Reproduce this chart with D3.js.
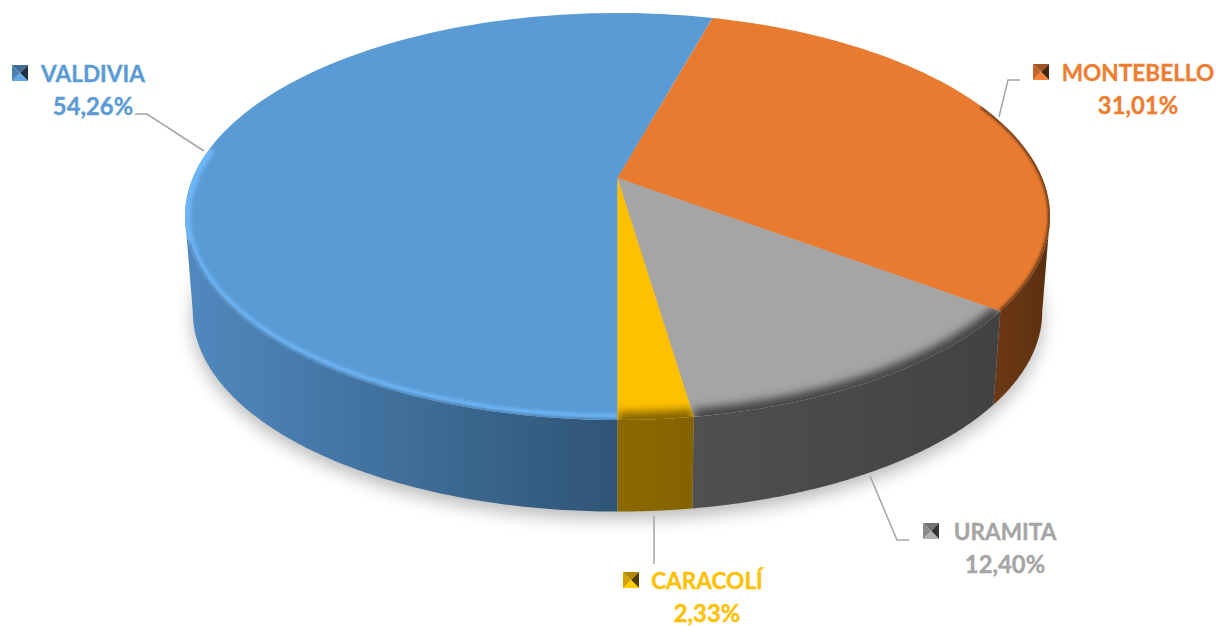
<!DOCTYPE html>
<html><head><meta charset="utf-8">
<script src="https://cdn.jsdelivr.net/npm/d3@7/dist/d3.min.js"></script>
<style>html,body{margin:0;background:#fff}svg{display:block}text{font-family:Lato,"Open Sans",sans-serif;font-weight:700;font-size:22.6px;text-anchor:middle;stroke-width:.35px}.val{font-size:23.8px}</style>
</head><body><svg id="c" width="1218" height="626"></svg>
<script>
const categories=["VALDIVIA","MONTEBELLO","URAMITA","CARACOLÍ"];
const seriesValues=[54.26,31.01,12.40,2.33];
const valueLabels=["54,26%","31,01%","12,40%","2,33%"];
const colors=["#5B9BD5","#E97B30","#A5A5A5","#FFC000"];
const textColors=["#5B9BD5","#ED7D31","#A5A5A5","#FFC000"];
const wallFrom=["#5089BF","#6B3815","#505050","#8C6900"];
const wallTo=["#2F5475","#5C2F10","#424242","#846300"];
const rimColors=["#6DB5F5","#5E3413","#454545","#846300"];
const labelXY=[[93,74],[1138,73],[1005,532],[707,581]];
const leaders=[[[135,114],[147,114],[204,151]],[[1020,80],[1008,80],[999,117]],[[870,476],[897,540],[909,540]],[[654,516],[654,564]]];
const markerXY=[[20,73],[1041,72],[931,531],[631,580]];

const svg=d3.select("#c"),defs=svg.append("defs");
const K=0.189,CX=617.5,CY=178,B=424.7,A=196.2,WS=0.982,WD=96;
const TAU=2*Math.PI;
const sx=d3.scaleLinear().domain([0,1]).range([CX,CX+B]);
const sy=d3.scaleLinear().domain([0,1]).range([CY,CY-A]);
const upper=t=>{const u=Math.sin(t),v=Math.cos(t),w=1+K*v;return [sx(u/w),sy(v/w)];};
const low=t=>{const p=upper(t);return [CX+(p[0]-CX)*WS,CY+(p[1]-CY)*WS+WD];};
const pie=d3.pie().sort(null).startAngle(Math.PI).endAngle(3*Math.PI);
const arcs=pie(seriesValues);
const samp=(a,b)=>d3.range(0,121).map(i=>a+(b-a)*i/120);
const line=d3.line();
const arcTop=d=>samp(d.startAngle,d.endAngle).map(upper);
const wedge=d=>line([[CX,CY],...arcTop(d)])+"Z";
const tangent=Math.acos(-K);
const clampFront=d=>{const off=d.startAngle>=TAU?TAU:0;
  const lo=Math.max(d.startAngle-off,tangent),hi=Math.min(d.endAngle-off,TAU-tangent);return [lo,hi];};

const blur=(id,s)=>defs.append("filter").attr("id",id).attr("filterUnits","userSpaceOnUse").attr("x",0).attr("y",0).attr("width",1218).attr("height",626).append("feGaussianBlur").attr("stdDeviation",s);
blur("sh",9);blur("b4",4.5);blur("b2",1.6);blur("b25",2.4);

// drop shadow
const full=samp(0,TAU);
svg.append("path").attr("d",line(full.map(low))+"Z").attr("transform","translate(0,7)").attr("fill","#000").attr("opacity",.28).attr("filter","url(#sh)");

// walls
[1,0,2,3].forEach(i=>{const d=arcs[i],[lo,hi]=clampFront(d);
  const gid="w"+i,pts=samp(lo,hi);
  const xs=pts.map(upper).map(p=>p[0]);
  const g=defs.append("linearGradient").attr("id",gid).attr("gradientUnits","userSpaceOnUse").attr("x1",d3.min(xs)).attr("x2",d3.max(xs)).attr("y1",0).attr("y2",0);
  g.append("stop").attr("offset",0).attr("stop-color",wallFrom[i]);
  g.append("stop").attr("offset",1).attr("stop-color",wallTo[i]);
  svg.append("path").attr("d",line([...pts.map(upper),...pts.slice().reverse().map(low)])+"Z").attr("fill","url(#"+gid+")");
});

// top faces with bevel rim
arcs.forEach((d,i)=>{
  const cid="cl"+i;
  defs.append("clipPath").attr("id",cid).append("path").attr("d",wedge(d));
  svg.append("path").attr("d",wedge(d)).attr("fill",colors[i]);
  const gr=svg.append("g").attr("clip-path","url(#"+cid+")");
  if(i===0){
    gr.append("path").attr("d",line(samp(d.startAngle,d.startAngle+Math.PI*.55).map(upper))).attr("fill","none").attr("stroke",rimColors[0]).attr("stroke-width",12).attr("filter","url(#b2)");
    gr.append("path").attr("d",line(samp(d.startAngle,d.startAngle+Math.PI*.4).map(upper))).attr("fill","none").attr("stroke","#3F6C95").attr("stroke-width",2.5).attr("filter","url(#b2)");
  } else if(i===1){
    gr.append("path").attr("d",line(samp(d.startAngle+.9,d.endAngle).map(upper))).attr("fill","none").attr("stroke",rimColors[1]).attr("stroke-width",4).attr("filter","url(#b2)");
  } else {
    gr.append("path").attr("d",line(arcTop(d))).attr("fill","none").attr("stroke",rimColors[i]).attr("stroke-width",16).attr("filter","url(#b4)");
  }
});

// leader lines
leaders.forEach(p=>svg.append("path").attr("d",line(p)).attr("fill","none").attr("stroke","#A5A5A5").attr("stroke-width",1.5));

// pyramid markers
categories.forEach((c,i)=>{
  const [x,y]=markerXY[i],s=8,g=svg.append("g").attr("transform",`translate(${x},${y})`);
  const cr=[[-s,-s],[s,-s],[s,s],[-s,s]];
  const base=d3.color(colors[i]);
  const shade=[base.darker(1),base.darker(3.2),base.brighter(.2),base.darker(.5)];
  cr.forEach((q,j)=>g.append("path").attr("d",line([[0,0],q,cr[(j+1)%4]])+"Z").attr("fill",shade[j]));
});

// labels
categories.forEach((c,i)=>{
  const [x,y]=labelXY[i];
  const t=svg.append("text").attr("fill",textColors[i]).attr("stroke",textColors[i]);
  t.append("tspan").attr("x",x).attr("y",y+8).text(c);
  t.append("tspan").attr("class","val").attr("x",x).attr("y",y+41).text(valueLabels[i]);
});
</script></body></html>
